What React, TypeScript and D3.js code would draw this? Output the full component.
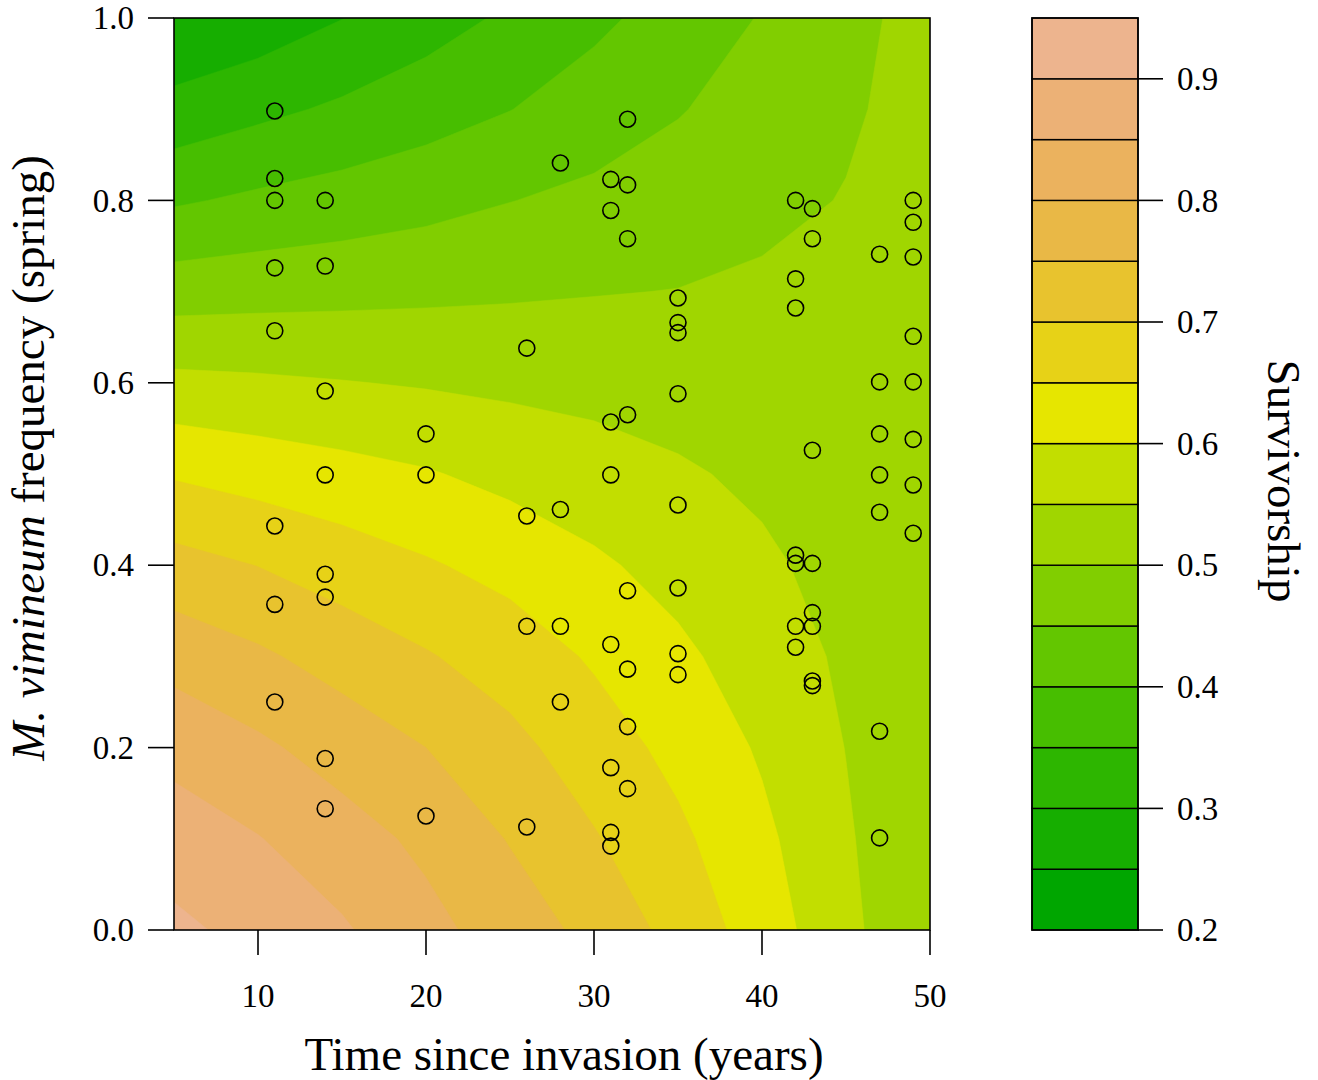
import React, { useEffect, useRef } from 'react';
import * as d3 from 'd3';

// grid of fitted survivorship
const timeGrid = [5, 10, 15, 20, 25, 30, 35, 40, 45, 50];
const freqGrid = [0, 0.1, 0.2, 0.3, 0.4, 0.5, 0.6, 0.7, 0.8, 0.9, 1.0];
// one row per freqGrid value, one column per timeGrid value
const survivorship = [
  [0.911, 0.884, 0.856, 0.815, 0.776, 0.736, 0.683, 0.626, 0.563, 0.503],
  [0.875, 0.852, 0.821, 0.789, 0.747, 0.704, 0.660, 0.611, 0.556, 0.503],
  [0.835, 0.809, 0.779, 0.750, 0.714, 0.674, 0.636, 0.594, 0.549, 0.504],
  [0.782, 0.758, 0.730, 0.704, 0.677, 0.644, 0.610, 0.576, 0.542, 0.505],
  [0.718, 0.699, 0.676, 0.655, 0.634, 0.608, 0.583, 0.558, 0.534, 0.507],
  [0.645, 0.630, 0.617, 0.604, 0.586, 0.571, 0.556, 0.541, 0.526, 0.509],
  [0.563, 0.558, 0.552, 0.546, 0.540, 0.535, 0.529, 0.524, 0.518, 0.511],
  [0.477, 0.482, 0.486, 0.490, 0.494, 0.498, 0.501, 0.507, 0.510, 0.513],
  [0.394, 0.409, 0.421, 0.434, 0.449, 0.461, 0.474, 0.489, 0.502, 0.515],
  [0.316, 0.338, 0.358, 0.378, 0.399, 0.424, 0.447, 0.471, 0.494, 0.517],
  [0.253, 0.270, 0.299, 0.329, 0.358, 0.389, 0.421, 0.453, 0.486, 0.518],
];

const levels = [0.2, 0.25, 0.3, 0.35, 0.4, 0.45, 0.5, 0.55, 0.6, 0.65, 0.7, 0.75, 0.8, 0.85, 0.9, 0.95];
// terrain.colors(19), first 15
const bandColors = [
  '#00A600', '#16AE00', '#2DB600', '#47BE00', '#63C600', '#81CE00', '#A0D600', '#C2DE00',
  '#E6E600', '#E7D217', '#E8C32E', '#E9B846', '#EBB25E', '#ECB176', '#EDB48E',
];

const xTicks = [10, 20, 30, 40, 50];
const yTicks = [0, 0.2, 0.4, 0.6, 0.8, 1.0];
const keyTicks = [0.2, 0.3, 0.4, 0.5, 0.6, 0.7, 0.8, 0.9];

// observed plots
const obsTime = [
  11, 11, 11, 11, 11, 11, 11, 11,
  14, 14, 14, 14, 14, 14, 14, 14,
  20, 20, 20,
  26, 26, 26, 26,
  28, 28, 28, 28,
  31, 31, 31, 31, 31, 31, 31, 31,
  32, 32, 32, 32, 32, 32, 32, 32,
  35, 35, 35, 35, 35, 35, 35, 35,
  42, 42, 42, 42, 42, 42, 42,
  43, 43, 43, 43, 43, 43, 43, 43,
  47, 47, 47, 47, 47, 47, 47,
  49, 49, 49, 49, 49, 49, 49, 49,
];
const obsFreq = [
  0.898, 0.824, 0.800, 0.726, 0.657, 0.443, 0.357, 0.250,
  0.800, 0.728, 0.591, 0.499, 0.390, 0.365, 0.188, 0.133,
  0.544, 0.499, 0.125,
  0.638, 0.454, 0.333, 0.113,
  0.841, 0.461, 0.333, 0.250,
  0.823, 0.789, 0.557, 0.499, 0.313, 0.178, 0.107, 0.092,
  0.889, 0.817, 0.758, 0.565, 0.372, 0.286, 0.223, 0.155,
  0.693, 0.666, 0.655, 0.588, 0.466, 0.375, 0.303, 0.280,
  0.800, 0.714, 0.682, 0.411, 0.402, 0.333, 0.310,
  0.791, 0.758, 0.526, 0.402, 0.348, 0.333, 0.273, 0.268,
  0.741, 0.601, 0.544, 0.499, 0.458, 0.218, 0.101,
  0.800, 0.776, 0.738, 0.651, 0.601, 0.538, 0.488, 0.435,
];

const FONT = '"Liberation Serif", "Times New Roman", serif';

const App = () => {
  const svgRef = useRef<SVGSVGElement>(null);

  useEffect(() => {
    const svg = d3.select(svgRef.current);
    svg.selectAll('*').remove();

    const plot = { left: 174, right: 930, top: 18, bottom: 930 };
    const key = { left: 1032, right: 1138 };

    const x = d3.scaleLinear().domain([5, 50]).range([plot.left, plot.right]);
    const y = d3.scaleLinear().domain([0, 1]).range([plot.bottom, plot.top]);
    const yKey = d3.scaleLinear().domain([0.2, 0.95]).range([plot.bottom, plot.top]);

    // contour bands
    const nx = timeGrid.length;
    const ny = freqGrid.length;
    const values = survivorship.flat();
    const contours = d3.contours().size([nx, ny]).thresholds(levels.slice(0, -1))(values);

    // grid index -> pixel (samples sit at cell centres)
    const gx = d3.scaleLinear().domain([0.5, nx - 0.5]).range([x(timeGrid[0]), x(timeGrid[nx - 1])]);
    const gy = d3.scaleLinear().domain([0.5, ny - 0.5]).range([y(freqGrid[0]), y(freqGrid[ny - 1])]);
    const path = d3.geoPath(
      d3.geoTransform({
        point(px: number, py: number) {
          this.stream.point(gx(px), gy(py));
        },
      })
    );

    svg.append('defs').append('clipPath').attr('id', 'plotClip')
      .append('rect')
      .attr('x', plot.left).attr('y', plot.top)
      .attr('width', plot.right - plot.left).attr('height', plot.bottom - plot.top);

    svg.append('g')
      .attr('clip-path', 'url(#plotClip)')
      .selectAll('path')
      .data(contours)
      .enter()
      .append('path')
      .attr('d', (d) => path(d as any))
      .attr('fill', (d, i) => bandColors[i])
      .attr('stroke', (d, i) => bandColors[i])
      .attr('stroke-width', 0.5);

    // observations
    svg.append('g')
      .selectAll('circle')
      .data(obsTime.map((t, i) => [t, obsFreq[i]]))
      .enter()
      .append('circle')
      .attr('cx', (d) => x(d[0]))
      .attr('cy', (d) => y(d[1]))
      .attr('r', 8)
      .attr('fill', 'none')
      .attr('stroke', '#000')
      .attr('stroke-width', 1.6);

    // frame
    svg.append('rect')
      .attr('x', plot.left).attr('y', plot.top)
      .attr('width', plot.right - plot.left).attr('height', plot.bottom - plot.top)
      .attr('fill', 'none').attr('stroke', '#000').attr('stroke-width', 1.6);

    // x axis
    const xa = svg.append('g');
    xa.selectAll('line').data(xTicks).enter().append('line')
      .attr('x1', (d) => x(d)).attr('x2', (d) => x(d))
      .attr('y1', plot.bottom).attr('y2', plot.bottom + 25)
      .attr('stroke', '#000').attr('stroke-width', 1.6);
    xa.selectAll('text').data(xTicks).enter().append('text')
      .attr('x', (d) => x(d)).attr('y', 1007)
      .attr('text-anchor', 'middle')
      .style('font-family', FONT).style('font-size', '33px')
      .text((d) => d);

    // y axis
    const ya = svg.append('g');
    ya.selectAll('line').data(yTicks).enter().append('line')
      .attr('x1', plot.left - 26).attr('x2', plot.left)
      .attr('y1', (d) => y(d)).attr('y2', (d) => y(d))
      .attr('stroke', '#000').attr('stroke-width', 1.6);
    ya.selectAll('text').data(yTicks).enter().append('text')
      .attr('x', 134).attr('y', (d) => y(d))
      .attr('dy', '0.34em')
      .attr('text-anchor', 'end')
      .style('font-family', FONT).style('font-size', '33px')
      .text((d) => d3.format('.1f')(d));

    // titles
    svg.append('text')
      .attr('x', 564).attr('y', 1070)
      .attr('text-anchor', 'middle')
      .style('font-family', FONT).style('font-size', '47px')
      .text('Time since invasion (years)');

    const yt = svg.append('text')
      .attr('transform', 'translate(44,458) rotate(-90)')
      .attr('text-anchor', 'middle')
      .style('font-family', FONT).style('font-size', '47px');
    yt.append('tspan').style('font-style', 'italic').text('M. vimineum');
    yt.append('tspan').text(' frequency (spring)');

    // colour key
    const kg = svg.append('g');
    kg.selectAll('rect').data(bandColors).enter().append('rect')
      .attr('x', key.left)
      .attr('y', (d, i) => yKey(levels[i + 1]))
      .attr('width', key.right - key.left)
      .attr('height', (d, i) => yKey(levels[i]) - yKey(levels[i + 1]))
      .attr('fill', (d) => d)
      .attr('stroke', '#000').attr('stroke-width', 1.4);
    kg.append('rect')
      .attr('x', key.left).attr('y', plot.top)
      .attr('width', key.right - key.left).attr('height', plot.bottom - plot.top)
      .attr('fill', 'none').attr('stroke', '#000').attr('stroke-width', 1.6);
    kg.selectAll('line').data(keyTicks).enter().append('line')
      .attr('x1', key.right).attr('x2', key.right + 25)
      .attr('y1', (d) => yKey(d)).attr('y2', (d) => yKey(d))
      .attr('stroke', '#000').attr('stroke-width', 1.6);
    kg.selectAll('text').data(keyTicks).enter().append('text')
      .attr('x', 1177).attr('y', (d) => yKey(d))
      .attr('dy', '0.34em')
      .style('font-family', FONT).style('font-size', '33px')
      .text((d) => d3.format('.1f')(d));

    svg.append('text')
      .attr('transform', 'translate(1268,481) rotate(90)')
      .attr('text-anchor', 'middle')
      .style('font-family', FONT).style('font-size', '47px')
      .text('Survivorship');
  }, []);

  return (
    <svg
      ref={svgRef}
      width={1318}
      height={1080}
      style={{ position: 'absolute', left: 0, top: 0, background: '#fff' }}
    />
  );
};

export default App;
